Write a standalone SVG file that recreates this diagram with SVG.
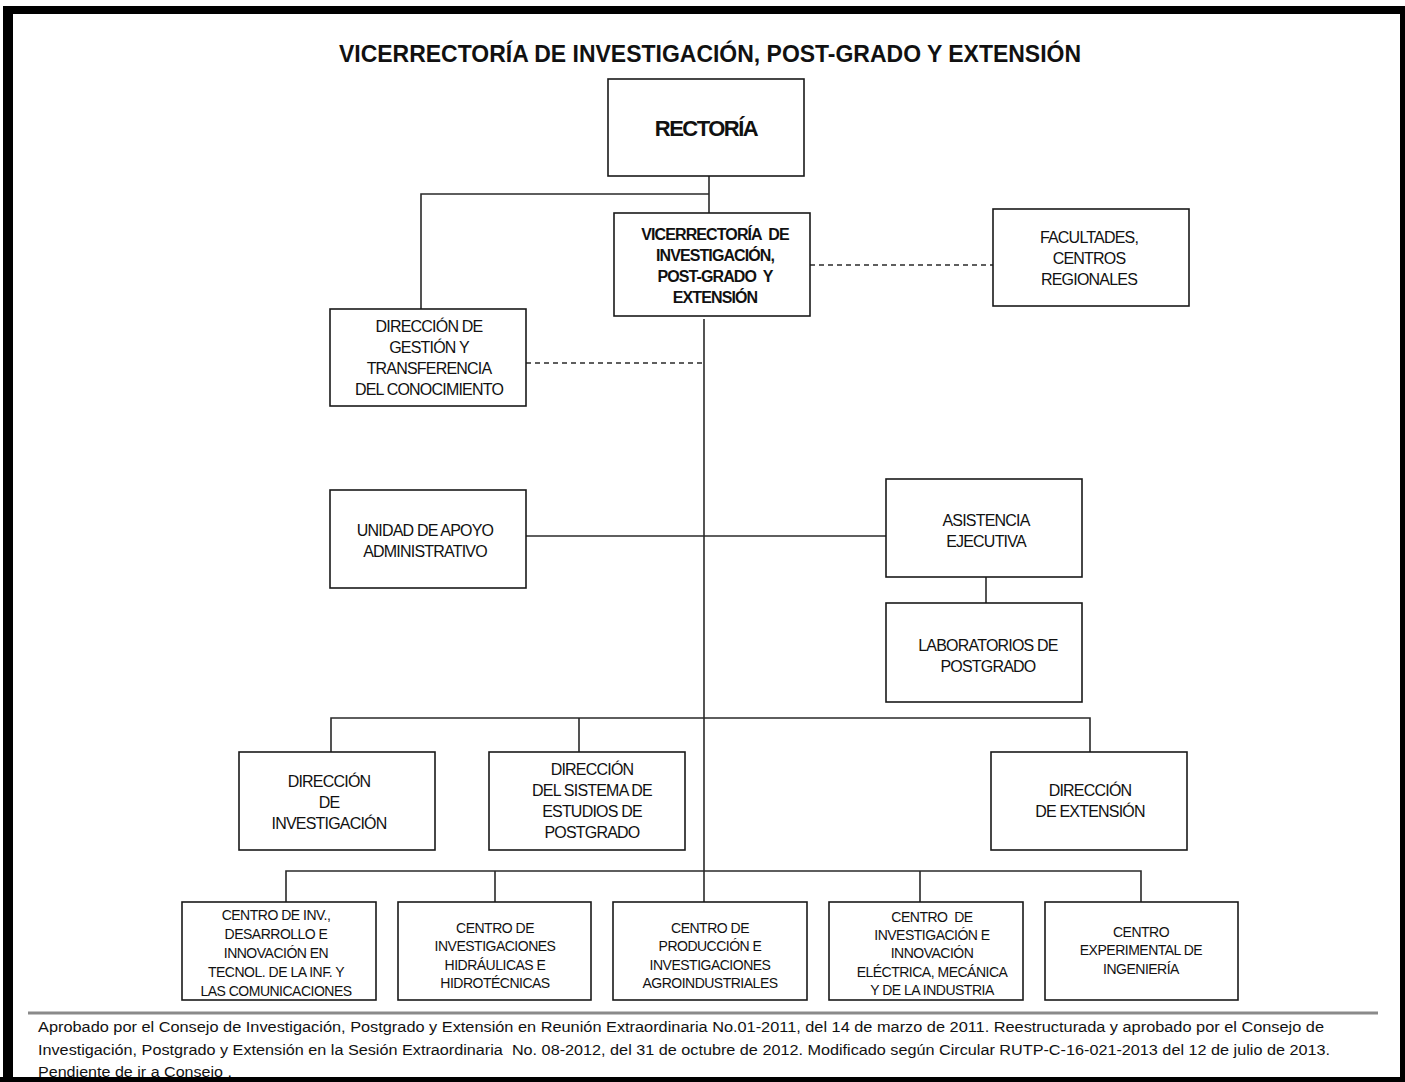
<svg xmlns="http://www.w3.org/2000/svg" width="1405" height="1082" viewBox="0 0 1405 1082">
<style>
.box{fill:#fff;stroke:#1a1a1a;stroke-width:1.6}
.ln{fill:none;stroke:#2a2a2a;stroke-width:1.6}
.dash{fill:none;stroke:#2a2a2a;stroke-width:1.4;stroke-dasharray:5 4}
.t{font-family:"Liberation Sans",Arial,sans-serif;font-size:16px;letter-spacing:-0.8px;text-anchor:middle;fill:#111}
.tb{font-family:"Liberation Sans",Arial,sans-serif;font-size:16px;font-weight:bold;letter-spacing:-0.9px;text-anchor:middle;fill:#111}
.ts{font-family:"Liberation Sans",Arial,sans-serif;font-size:14px;letter-spacing:-0.5px;text-anchor:middle;fill:#111}
.foot{font-family:"Liberation Sans",Arial,sans-serif;font-size:14px;fill:#111}
</style>
<rect width="1405" height="1082" fill="#fff"/>
<text x="710" y="62" font-family="Liberation Sans, Arial, sans-serif" font-size="24" font-weight="bold" text-anchor="middle" textLength="742" lengthAdjust="spacingAndGlyphs" fill="#111">VICERRECTORÍA DE INVESTIGACIÓN, POST-GRADO Y EXTENSIÓN</text>
<g id="connectors">
<path class="ln" d="M709 176V213M709 194H421V309"/>
<path class="dash" d="M810 265H993"/>
<path class="dash" d="M526 363H703"/>
<path class="ln" d="M704 319V902"/>
<path class="ln" d="M526 536H886"/>
<path class="ln" d="M986 577V603"/>
<path class="ln" d="M331 752V718H1090V752M579 718V752"/>
<path class="ln" d="M286 902V871H1141V902M495 871V902M920 871V902"/>
</g>
<g id="rectoria"><rect class="box" x="608" y="79" width="196" height="97"/><text x="706" y="136" font-family="Liberation Sans, Arial, sans-serif" font-size="22" font-weight="bold" letter-spacing="-1.5" text-anchor="middle" fill="#111">RECTORÍA</text></g>
<g id="vicerrectoria"><rect class="box" x="614" y="213" width="196" height="103"/>
<text class="tb" x="715" y="240" xml:space="preserve">VICERRECTORÍA  DE</text><text class="tb" x="715" y="261">INVESTIGACIÓN,</text><text class="tb" x="715" y="282" xml:space="preserve">POST-GRADO  Y</text><text class="tb" x="715" y="303">EXTENSIÓN</text></g>
<g id="facultades"><rect class="box" x="993" y="209" width="196" height="97"/>
<text class="t" x="1089" y="243">FACULTADES,</text><text class="t" x="1089" y="264">CENTROS</text><text class="t" x="1089" y="285">REGIONALES</text></g>
<g id="dgtc"><rect class="box" x="330" y="309" width="196" height="97"/>
<text class="t" x="429" y="332">DIRECCIÓN DE</text><text class="t" x="429" y="353">GESTIÓN Y</text><text class="t" x="429" y="374">TRANSFERENCIA</text><text class="t" x="429" y="395">DEL CONOCIMIENTO</text></g>
<g id="unidad"><rect class="box" x="330" y="490" width="196" height="98"/>
<text class="t" x="425" y="536">UNIDAD DE APOYO</text><text class="t" x="425" y="557">ADMINISTRATIVO</text></g>
<g id="asistencia"><rect class="box" x="886" y="479" width="196" height="98"/>
<text class="t" x="986" y="526">ASISTENCIA</text><text class="t" x="986" y="547">EJECUTIVA</text></g>
<g id="laboratorios"><rect class="box" x="886" y="603" width="196" height="99"/>
<text class="t" x="988" y="651">LABORATORIOS DE</text><text class="t" x="988" y="672">POSTGRADO</text></g>
<g id="dir-investigacion"><rect class="box" x="239" y="752" width="196" height="98"/>
<text class="t" x="329" y="787">DIRECCIÓN</text><text class="t" x="329" y="808">DE</text><text class="t" x="329" y="829">INVESTIGACIÓN</text></g>
<g id="dir-postgrado"><rect class="box" x="489" y="752" width="196" height="98"/>
<text class="t" x="592" y="775">DIRECCIÓN</text><text class="t" x="592" y="796">DEL SISTEMA DE</text><text class="t" x="592" y="817">ESTUDIOS DE</text><text class="t" x="592" y="838">POSTGRADO</text></g>
<g id="dir-extension"><rect class="box" x="991" y="752" width="196" height="98"/>
<text class="t" x="1090" y="796">DIRECCIÓN</text><text class="t" x="1090" y="817">DE EXTENSIÓN</text></g>
<g id="centro-tic"><rect class="box" x="182" y="902" width="194" height="98"/>
<text class="ts" x="276" y="920">CENTRO DE INV.,</text><text class="ts" x="276" y="939">DESARROLLO E</text><text class="ts" x="276" y="958">INNOVACIÓN EN</text><text class="ts" x="276" y="977">TECNOL. DE LA INF. Y</text><text class="ts" x="276" y="996">LAS COMUNICACIONES</text></g>
<g id="centro-hidraulicas"><rect class="box" x="398" y="902" width="193" height="98"/>
<text class="ts" x="495" y="933">CENTRO DE</text><text class="ts" x="495" y="951">INVESTIGACIONES</text><text class="ts" x="495" y="970">HIDRÁULICAS E</text><text class="ts" x="495" y="988">HIDROTÉCNICAS</text></g>
<g id="centro-agro"><rect class="box" x="613" y="902" width="194" height="98"/>
<text class="ts" x="710" y="933">CENTRO DE</text><text class="ts" x="710" y="951">PRODUCCIÓN E</text><text class="ts" x="710" y="970">INVESTIGACIONES</text><text class="ts" x="710" y="988">AGROINDUSTRIALES</text></g>
<g id="centro-electrica"><rect class="box" x="829" y="902" width="194" height="98"/>
<text class="ts" x="932" y="922" xml:space="preserve">CENTRO  DE</text><text class="ts" x="932" y="940">INVESTIGACIÓN E</text><text class="ts" x="932" y="958">INNOVACIÓN</text><text class="ts" x="932" y="977">ELÉCTRICA, MECÁNICA</text><text class="ts" x="932" y="995">Y DE LA INDUSTRIA</text></g>
<g id="centro-ingenieria"><rect class="box" x="1045" y="902" width="193" height="98"/>
<text class="ts" x="1141" y="937">CENTRO</text><text class="ts" x="1141" y="955">EXPERIMENTAL DE</text><text class="ts" x="1141" y="974">INGENIERÍA</text></g>
<path d="M28 1013H1378" stroke="#8a8a8a" stroke-width="3"/>
<text class="foot" x="38" y="1032" textLength="1286" lengthAdjust="spacingAndGlyphs">Aprobado por el Consejo de Investigación, Postgrado y Extensión en Reunión Extraordinaria No.01-2011, del 14 de marzo de 2011. Reestructurada y aprobado por el Consejo de</text>
<text class="foot" x="38" y="1055" textLength="1292" lengthAdjust="spacingAndGlyphs" xml:space="preserve">Investigación, Postgrado y Extensión en la Sesión Extraordinaria  No. 08-2012, del 31 de octubre de 2012. Modificado según Circular RUTP-C-16-021-2013 del 12 de julio de 2013.</text>
<text class="foot" x="38" y="1077" textLength="194" lengthAdjust="spacingAndGlyphs">Pendiente de ir a Consejo .</text>
<g id="frame" fill="#000">
<rect x="7" y="6" width="1398" height="8"/>
<rect x="3" y="6" width="10" height="1076"/>
<rect x="1400" y="6" width="5" height="1076"/>
<rect x="0" y="1077" width="1405" height="5"/>
</g>
</svg>
